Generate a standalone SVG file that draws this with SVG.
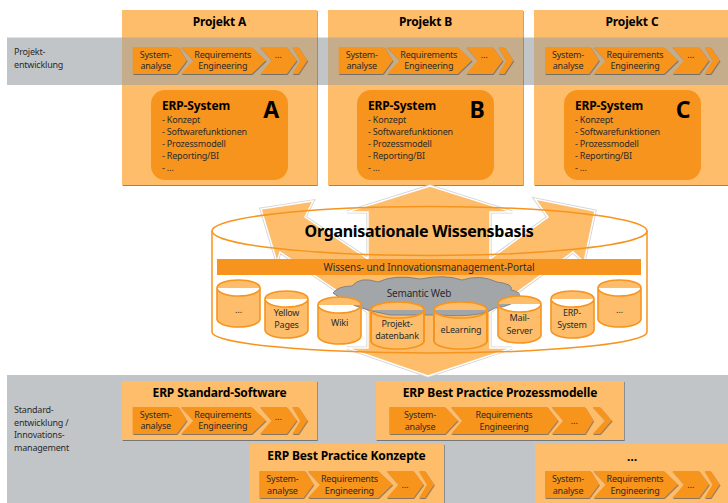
<svg xmlns="http://www.w3.org/2000/svg" xmlns:xlink="http://www.w3.org/1999/xlink" width="728" height="503" viewBox="0 0 728 503">
<style>
text{font-family:"Noto Sans","Open Sans","DejaVu Sans",sans-serif;fill:#2b2b2b;font-size:9px;letter-spacing:-.2px}
.m{text-anchor:middle}
.b{font-weight:700;fill:#000;font-size:12px;letter-spacing:-.15px}
.box{fill:#fdbd6a;filter:url(#sh)}
.erp{fill:#f7941d}
.ov{fill:#c5ad8b}
.bg{fill:#c1c5c8}
.big{font-weight:700;fill:#000;font-size:23px}
.cyl{fill:#fdbd6a;stroke:#f7941d;stroke-width:1.6}
.ell{fill:none;stroke:#f7941d;stroke-width:1.5}
</style>
<defs>
<filter id="sh" x="-5%" y="-5%" width="110%" height="110%"><feDropShadow dx="0.7" dy="1" stdDeviation="0.7" flood-color="#555" flood-opacity=".7"/></filter>
<g id="chain" fill="#f7941d" filter="url(#sh)">
<polygon points="0,0 45.6,0 54,13.5 44,27 0,27"/>
<polygon points="48.3,0 119,0 133,13.5 119,27 48.3,27 60.8,13.5"/>
<polygon points="127.3,0 154,0 164,13.5 154,27 127.3,27 139,13.5"/>
<polygon points="159.6,0 165.6,0 174.6,13.5 165.6,27 159.6,27 167.6,13.5"/>
</g>
<g id="chainw" fill="#f7941d" filter="url(#sh)">
<polygon points="0,0 55.7,0 68.4,13.5 55.7,27 0,27"/>
<polygon points="61.7,0 158,0 168.5,13.5 158,27 61.7,27 73,13.5"/>
<polygon points="162.4,0 195.7,0 204,13.5 195.7,27 162.4,27 174,13.5"/>
<polygon points="203.4,0 210.7,0 222.4,13.5 210.7,27 203.4,27 215.7,13.5"/>
</g>
<path id="cyl" d="M0,8 A21.5,8 0 0 1 43,8 V39 A21.5,8 0 0 1 0,39 Z M0,8 A21.5,8 0 0 0 43,8"/>
</defs>

<rect id="band-top" class="bg" x="7" y="37.5" width="721" height="47.5"/>
<rect id="band-bottom" class="bg" x="7" y="375" width="721" height="128"/>
<g id="lane-labels">
<text x="14" y="55">Projekt-</text><text x="14" y="68">entwicklung</text>
<text x="14" y="413">Standard-</text><text x="14" y="426">entwicklung /</text><text x="14" y="438">Innovations-</text><text x="14" y="450.500">management</text>
</g>

<g id="projekt-a">
<rect class="box" x="122" y="10" width="195" height="175"/><rect class="ov" x="122" y="37.5" width="195" height="47.5"/>
<text class="b m" x="219.500" y="26">Projekt A</text>
<use href="#chain" x="132.700" y="47"/>
<text class="m" x="155.700" y="57.500">System-</text><text class="m" x="155.700" y="69">analyse</text>
<text class="m" x="222.700" y="57.500">Requirements</text><text class="m" x="222.700" y="69">Engineering</text><text class="m" x="278.300" y="58">…</text>
<rect class="erp" x="151" y="90" width="137" height="90" rx="14"/>
<text class="b" x="162" y="110">ERP-System</text><text class="big m" x="271" y="118">A</text>
<text x="162" y="123">- Konzept</text><text x="162" y="134.500">- Softwarefunktionen</text><text x="162" y="146.500">- Prozessmodell</text><text x="162" y="158.500">- Reporting/BI</text><text x="162" y="171">- …</text>
</g>
<g id="projekt-b">
<rect class="box" x="328" y="10" width="195" height="175"/><rect class="ov" x="328" y="37.5" width="195" height="47.5"/>
<text class="b m" x="425.500" y="26">Projekt B</text>
<use href="#chain" x="338.700" y="47"/>
<text class="m" x="361.700" y="57.500">System-</text><text class="m" x="361.700" y="69">analyse</text>
<text class="m" x="428.700" y="57.500">Requirements</text><text class="m" x="428.700" y="69">Engineering</text><text class="m" x="484.300" y="58">…</text>
<rect class="erp" x="357" y="90" width="137" height="90" rx="14"/>
<text class="b" x="368" y="110">ERP-System</text><text class="big m" x="477" y="118">B</text>
<text x="368" y="123">- Konzept</text><text x="368" y="134.500">- Softwarefunktionen</text><text x="368" y="146.500">- Prozessmodell</text><text x="368" y="158.500">- Reporting/BI</text><text x="368" y="171">- …</text>
</g>
<g id="projekt-c">
<rect class="box" x="534" y="10" width="195" height="175"/><rect class="ov" x="534" y="37.5" width="195" height="47.5"/>
<text class="b m" x="632" y="26">Projekt C</text>
<use href="#chain" x="545" y="47"/>
<text class="m" x="568" y="57.500">System-</text><text class="m" x="568" y="69">analyse</text>
<text class="m" x="635" y="57.500">Requirements</text><text class="m" x="635" y="69">Engineering</text><text class="m" x="690.600" y="58">…</text>
<rect class="erp" x="564" y="90" width="137" height="90" rx="14"/>
<text class="b" x="575" y="110">ERP-System</text><text class="big m" x="683" y="118">C</text>
<text x="575" y="123">- Konzept</text><text x="575" y="134.500">- Softwarefunktionen</text><text x="575" y="146.500">- Prozessmodell</text><text x="575" y="158.500">- Reporting/BI</text><text x="575" y="171">- …</text>
</g>

<g id="connectors">
<path d="M430,186 512,212 490,212 490,259 548,217 535,199 595,211 584,262 573,252 490,312 490,348 512,348 428,376 347,348 368,348 368,312 280,252 277,262 261,209 313,201 305,217 368,259 368,212 347,212Z" fill="#fdbd6a" stroke="#d2d4d6" stroke-width="3.200"/>
<path d="M430,186 512,212 490,212 490,259 548,217 535,199 595,211 584,262 573,252 490,312 490,348 512,348 428,376 347,348 368,348 368,312 280,252 277,262 261,209 313,201 305,217 368,259 368,212 347,212Z" fill="#fdbd6a" stroke="#fff" stroke-width="1.400"/>
</g>

<g id="wissensbasis">
<ellipse class="ell" cx="429.500" cy="231" rx="217.500" ry="24.500"/>
<path class="ell" d="M212,231 V332 A217.500,21 0 0 0 647,332 V231"/>
<text class="m" x="419" y="236.500" style="font-size:16px;font-weight:700;fill:#000;letter-spacing:-.3px">Organisationale Wissensbasis</text>
<rect x="217" y="259" width="424" height="16" fill="#f7941d"/>
<text class="m" x="429" y="271" style="font-size:10px;letter-spacing:-.1px">Wissens- und Innovationsmanagement-Portal</text>
</g>

<g id="semantic-web">
<path d="M333,293 Q338,286 352,286 Q360,276 378,282 Q395,274 420,279 Q445,274 462,280 Q480,274 497,282 Q514,284 511,290 Q522,292 519,297 Q514,306 495,308 Q480,318 440,315 L390,315 Q350,308 333,293Z" fill="#a2a6a9" stroke="#74787b" stroke-width=".8"/>
<text class="m" x="419" y="297" style="font-size:10px">Semantic Web</text>
</g>

<g id="cylinders">
<g id="db-1"><use href="#cyl" class="cyl" x="217" y="280"/><text class="m" x="238.500" y="313">…</text></g>
<g id="db-yellow"><use href="#cyl" class="cyl" x="265" y="291"/><text class="m" x="286.500" y="316">Yellow</text><text class="m" x="286.500" y="328">Pages</text></g>
<g id="db-wiki"><use href="#cyl" class="cyl" x="318" y="297"/><text class="m" x="339.500" y="326">Wiki</text></g>
<g id="db-projekt"><use href="#cyl" class="cyl" transform="translate(371,302) scale(1.233,1)"/><text class="m" x="397" y="327">Projekt-</text><text class="m" x="397" y="339">datenbank</text></g>
<g id="db-elearning"><use href="#cyl" class="cyl" transform="translate(434,302) scale(1.233,1)"/><text class="m" x="461" y="333">eLearning</text></g>
<g id="db-mail"><use href="#cyl" class="cyl" x="498" y="296"/><text class="m" x="519.500" y="321">Mail-</text><text class="m" x="519.500" y="333.500">Server</text></g>
<g id="db-erp"><use href="#cyl" class="cyl" x="551" y="291"/><text class="m" x="572" y="316">ERP-</text><text class="m" x="572" y="328">System</text></g>
<g id="db-2"><use href="#cyl" class="cyl" x="598" y="280"/><text class="m" x="619.500" y="313">…</text></g>
</g>

<g id="erp-standard-software">
<rect class="box" x="122" y="381" width="195" height="59"/>
<text class="b m" x="219.500" y="397">ERP Standard-Software</text>
<use href="#chain" x="132.700" y="407"/>
<text class="m" x="155.700" y="417.500">System-</text><text class="m" x="155.700" y="429">analyse</text>
<text class="m" x="222.700" y="417.500">Requirements</text><text class="m" x="222.700" y="429">Engineering</text><text class="m" x="278.300" y="420">…</text>
</g>
<g id="erp-prozessmodelle">
<rect class="box" x="376" y="381" width="248" height="59"/>
<text class="b m" x="500" y="397">ERP Best Practice Prozessmodelle</text>
<use href="#chainw" x="389.300" y="407"/>
<text class="m" x="420" y="417.500">System-</text><text class="m" x="420" y="430">analyse</text>
<text class="m" x="504" y="417.500">Requirements</text><text class="m" x="504" y="430">Engineering</text><text class="m" x="574.300" y="424">…</text>
</g>
<g id="erp-konzepte">
<rect class="box" x="249" y="444" width="195" height="62"/>
<text class="b m" x="346.500" y="460">ERP Best Practice Konzepte</text>
<use href="#chain" x="259.400" y="471"/>
<text class="m" x="282.400" y="481.500">System-</text><text class="m" x="282.400" y="494">analyse</text>
<text class="m" x="349.400" y="481.500">Requirements</text><text class="m" x="349.400" y="494">Engineering</text><text class="m" x="405" y="488">…</text>
</g>
<g id="erp-weitere">
<rect class="box" x="535" y="444" width="195" height="62"/>
<text class="b m" x="632" y="461">…</text>
<use href="#chain" x="545" y="471"/>
<text class="m" x="568" y="481.500">System-</text><text class="m" x="568" y="494">analyse</text>
<text class="m" x="635" y="481.500">Requirements</text><text class="m" x="635" y="494">Engineering</text><text class="m" x="690.600" y="488">…</text>
</g>
</svg>
